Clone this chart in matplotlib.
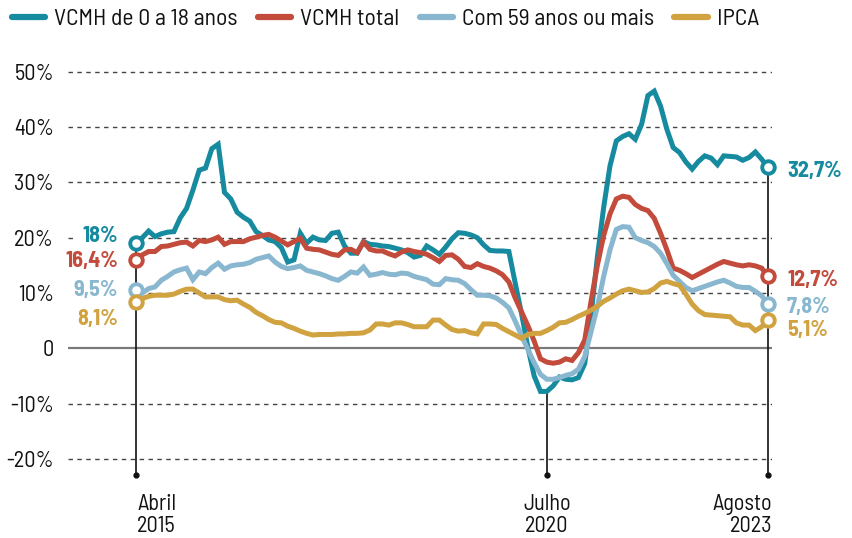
import matplotlib
matplotlib.use("Agg")
import matplotlib.pyplot as plt
from matplotlib.lines import Line2D
import numpy as np

# ---------------- data ----------------
series_names = ["VCMH de 0 a 18 anos", "VCMH total", "Com 59 anos ou mais", "IPCA"]

vcmh_0_18 = [19.0, 20.0, 21.2, 20.2, 20.7, 21.0, 21.1, 23.6, 25.3, 28.6,
             32.2, 32.6, 36.1, 36.9, 28.2, 27.0, 24.6, 23.7, 23.0, 21.1,
             20.4, 19.6, 19.3, 18.2, 15.6, 16.0, 20.8, 19.0, 20.1, 19.6,
             19.5, 20.8, 21.0, 18.5, 17.2, 17.2, 19.3, 18.8, 18.7, 18.5,
             18.4, 18.1, 17.8, 17.3, 16.5, 16.8, 18.5, 17.8, 17.0, 18.3,
             19.8, 20.9, 20.8, 20.5, 20.0, 18.7, 17.7, 17.6, 17.6, 17.5,
             11.8, 6.3, 0.2, -5.0, -7.8, -7.8, -6.8, -5.2, -5.6, -5.7,
             -5.3, -2.8, 6.0, 16.5, 25.5, 33.0, 37.5, 38.3, 38.8, 37.8,
             40.5, 45.7, 46.5, 43.8, 39.6, 36.3, 35.4, 33.7, 32.4, 33.8,
             34.8, 34.4, 33.2, 34.8, 34.7, 34.6, 34.0, 34.5, 35.5, 34.2,
             32.7]

vcmh_total = [16.0, 16.9, 17.5, 17.5, 18.4, 18.5, 18.8, 19.1, 19.2, 18.5,
              19.5, 19.3, 19.6, 20.1, 18.8, 19.3, 19.3, 19.3, 19.8, 20.1,
              20.4, 20.6, 20.1, 19.4, 18.7, 19.3, 19.9, 18.1, 17.9, 17.8,
              17.4, 17.0, 16.8, 17.8, 17.9, 17.3, 19.2, 17.9, 17.6, 17.6,
              17.1, 16.7, 17.4, 17.8, 17.5, 17.3, 17.0, 16.4, 15.7, 16.8,
              16.9, 16.1, 14.8, 14.6, 15.3, 14.8, 14.5, 14.0, 13.3, 12.0,
              9.1, 6.6, 4.1, 1.3, -1.9, -2.5, -2.7, -2.5, -1.9, -2.2,
              -0.8, 1.5, 8.5, 15.0, 20.4, 24.3, 27.0, 27.5, 27.3, 26.0,
              25.3, 24.9, 23.5, 20.8, 17.8, 14.5, 14.1, 13.5, 12.8, 13.4,
              14.0, 14.6, 15.2, 15.7, 15.4, 15.1, 14.9, 15.1, 14.9, 14.5,
              13.0]

com_59 = [10.5, 10.0, 10.8, 11.1, 12.3, 13.0, 13.8, 14.2, 14.5, 12.4,
          13.8, 13.5, 14.6, 15.4, 14.3, 14.9, 15.1, 15.2, 15.5, 16.1,
          16.4, 16.7, 15.6, 14.8, 14.4, 14.6, 14.9, 14.1, 13.8, 13.5,
          13.1, 12.6, 12.3, 13.0, 13.8, 13.6, 14.7, 13.2, 13.4, 13.7,
          13.4, 13.3, 13.6, 13.5, 13.0, 12.7, 12.4, 11.6, 11.5, 12.6,
          12.4, 12.3, 11.7, 10.6, 9.6, 9.6, 9.5, 9.1, 8.3, 7.3,
          4.9, 2.3, -0.2, -2.6, -4.7, -5.6, -5.6, -5.3, -4.9, -4.6,
          -3.8, -1.5, 3.0, 7.5, 13.0, 17.8, 21.5, 22.0, 21.9, 20.0,
          19.5, 19.1, 18.4, 17.2, 15.3, 13.2, 12.1, 11.0, 10.4, 10.8,
          11.2, 11.6, 12.0, 12.3, 11.8, 11.2, 11.0, 11.0, 10.3, 9.5,
          8.0]

ipca = [8.3, 9.0, 9.4, 9.6, 9.6, 9.6, 9.8, 10.3, 10.7, 10.7,
        10.0, 9.3, 9.3, 9.3, 8.8, 8.6, 8.7, 8.0, 7.4, 6.5,
        5.9, 5.2, 4.7, 4.6, 4.0, 3.6, 3.1, 2.7, 2.4, 2.5,
        2.5, 2.5, 2.6, 2.6, 2.7, 2.7, 2.8, 3.3, 4.4, 4.4,
        4.2, 4.6, 4.6, 4.3, 3.9, 3.9, 3.9, 5.1, 5.1, 4.2,
        3.4, 3.1, 3.2, 2.8, 2.6, 4.4, 4.4, 4.3, 3.6, 3.0,
        2.4, 1.8, 2.5, 2.7, 2.7, 3.2, 3.8, 4.6, 4.7, 5.2,
        5.8, 6.3, 6.9, 7.6, 8.5, 9.1, 9.8, 10.4, 10.7, 10.4,
        10.1, 10.2, 10.8, 11.8, 12.1, 11.7, 11.4, 9.8, 8.0, 6.8,
        6.1, 6.0, 5.9, 5.8, 5.7, 4.6, 4.2, 4.2, 3.2, 3.9,
        5.1]

start_labels = ["18%", "16,4%", "9,5%", "8,1%"]
end_labels = ["32,7%", "12,7%", "7,8%", "5,1%"]

x_tick_idx = [0, 65, 100]
x_tick_labels = ["Abril\n2015", "Julho\n2020", "Agosto\n2023"]
y_ticks = [-20, -10, 0, 10, 20, 30, 40, 50]
y_tick_labels = ["-20%", "-10%", "0", "10%", "20%", "30%", "40%", "50%"]

# ---------------- style ----------------
colors = ["#168A9F", "#C24B3C", "#89B7CF", "#D0A240"]
plt.rcParams["font.family"] = ["Barlow Semi Condensed", "Barlow Condensed", "DejaVu Sans"]
FS = 16
PT = 0.72  # points per pixel at dpi 100

W, H = 852, 538
fig = plt.figure(figsize=(W / 100, H / 100), dpi=100)

ylo, yhi = -24.5, 52
px_per_pct = 5.53
zero_px = 348.3
top_px = zero_px - yhi * px_per_pct
bot_px = zero_px - ylo * px_per_pct
left_px, right_px = 68, 772
x0_px, x1_px = 136, 768
n = len(vcmh_0_18)
ppx = (x1_px - x0_px) / (n - 1)
xlo = (left_px - x0_px) / ppx
xhi = (n - 1) + (right_px - x1_px) / ppx

ax = fig.add_axes([left_px / W, 1 - bot_px / H, (right_px - left_px) / W, (bot_px - top_px) / H])
ax.set_xlim(xlo, xhi)
ax.set_ylim(ylo, yhi)
for s in ax.spines.values():
    s.set_visible(False)

for yt in y_ticks:
    if yt == 0:
        ax.axhline(0, color="#7a7a7a", lw=1.6, zorder=1)
    else:
        ax.axhline(yt, color="#444444", lw=1.0, ls=(0, (3.2, 3.2)), zorder=1)

ax.set_yticks(y_ticks)
ax.set_yticklabels(y_tick_labels, fontsize=FS, color="#111111")
ax.tick_params(axis="y", length=0, pad=10)
ax.set_xticks([])

data = [vcmh_0_18, vcmh_total, com_59, ipca]
x = np.arange(n)

for ti in x_tick_idx:
    top = max(d[ti] for d in data)
    if ti not in (0, n - 1):
        top = min(d[ti] for d in data)
    ax.plot([ti, ti], [top, -23.0], color="#111111", lw=1.2, zorder=2, clip_on=False)
    ax.plot([ti], [-23.0], marker="o", ms=3.5, color="#111111", zorder=2, clip_on=False)

for d, c in zip(data, colors):
    ax.plot(x, d, color=c, lw=3.6, solid_joinstyle="miter", solid_capstyle="butt", zorder=3)
for d, c in zip(data, colors):
    ax.plot([0, n - 1], [d[0], d[-1]], ls="none", marker="o", ms=9, mfc="white",
            mec=c, mew=2.8, zorder=4, clip_on=False)

start_off = [7, -1, 0, -17]
end_off = [-4, -4, -3, -10]
for d, c, sl, el, so, eo in zip(data, colors, start_labels, end_labels, start_off, end_off):
    ax.annotate(sl, (0, d[0]), xytext=(-18 * PT, so * PT), textcoords="offset points",
                ha="right", va="center", color=c, fontsize=FS, fontweight="bold",
                bbox=dict(boxstyle="square,pad=0.4", fc="white", ec="none"), zorder=5)
    ax.annotate(el, (n - 1, d[-1]), xytext=(19 * PT, eo * PT), textcoords="offset points",
                ha="left", va="center", color=c, fontsize=FS, fontweight="bold",
                annotation_clip=False)

aligns = ["left", "center", "right"]
xoffs = [1, 0, 4]
for ti, lab, al, xo in zip(x_tick_idx, x_tick_labels, aligns, xoffs):
    ax.annotate(lab, (ti, -23.0), xytext=(xo * PT, -13), textcoords="offset points",
                ha=al, va="top", fontsize=FS, color="#111111", linespacing=1.12,
                annotation_clip=False)

handles = [Line2D([0], [0], color=c, lw=4.5, solid_capstyle="round") for c in colors]
fig.legend(handles, series_names, loc="center left", bbox_to_anchor=(0.0, 1 - 19 / H),
           ncol=4, frameon=False, fontsize=17, handlelength=1.42, handletextpad=0.38,
           columnspacing=0.85, borderaxespad=0.0, borderpad=0.5, labelcolor="#111111")

fig.savefig("out.png", dpi=100)
